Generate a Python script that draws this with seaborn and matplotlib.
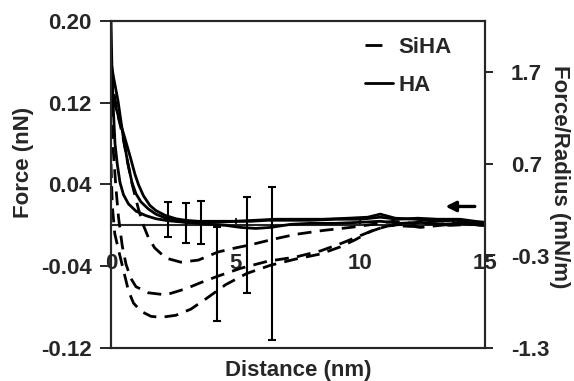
import matplotlib
matplotlib.use("Agg")
import matplotlib.pyplot as plt
from matplotlib.lines import Line2D
import numpy as np
import pandas as pd
import seaborn as sns

# ---- force-distance curves (force in nN, distance in nm) ----
ha1_x = [0, 0.04, 0.1, 0.16, 0.25, 0.36, 0.5, 0.7, 1.0, 1.4, 1.8, 2.3, 3.0, 3.6, 4.3,
         5.0, 5.8, 6.6, 7.5, 8.5, 9.5, 10.3, 10.8, 11.4, 12.2, 13.0, 13.8, 14.5, 15.0]
ha1_y = [0.20, 0.15, 0.11, 0.08, 0.06, 0.042, 0.030, 0.021, 0.014, 0.0095, 0.0065,
         0.0045, 0.003, 0.0025, 0.003, 0.004, 0.005, 0.006, 0.006, 0.006, 0.007, 0.008,
         0.011, 0.007, 0.006, 0.004, 0.005, 0.003, 0.002]

ha2_x = [0, 0.1, 0.28, 0.48, 0.68, 0.84, 1.0, 1.2, 1.5, 1.8, 2.2, 2.6, 3.0, 3.5, 4.0,
         4.6, 5.2, 5.8, 6.4, 7.2, 8.0, 9.0, 10.0, 10.8, 11.6, 12.4, 13.2, 14.0, 15.0]
ha2_y = [0.16, 0.145, 0.122, 0.088, 0.060, 0.042, 0.031, 0.023, 0.016, 0.011, 0.007,
         0.0045, 0.003, 0.002, 0.001, 0.0, -0.002, -0.003, -0.002, 0.001, 0.002, 0.002,
         0.003, 0.004, 0.002, 0.003, 0.001, 0.002, 0.0]

ha3_x = [0, 0.2, 0.4, 0.56, 0.76, 0.96, 1.1, 1.3, 1.56, 1.8, 2.17, 2.6, 3.0, 3.5, 4.3,
         5.0, 5.6, 6.3, 7.0, 8.0, 9.0, 10.0, 10.8, 11.5, 12.3, 13.1, 14.0, 14.6, 15.0]
ha3_y = [0.13, 0.115, 0.098, 0.085, 0.068, 0.05, 0.04, 0.029, 0.0195, 0.0145, 0.0098,
         0.0065, 0.0049, 0.004, 0.004, 0.004, 0.004, 0.005, 0.005, 0.005, 0.006, 0.006,
         0.008, 0.006, 0.007, 0.006, 0.006, 0.004, 0.003]

siha1_x = [0, 0.15, 0.3, 0.45, 0.65, 0.85, 1.1, 1.3, 1.5, 1.75, 2.2, 2.8, 3.5, 4.3, 5.0,
           5.6, 6.5, 7.4, 8.5, 9.6, 10.5, 11.3, 12.1, 13.0, 14.0, 15.0]
siha1_y = [0.15, 0.125, 0.105, 0.09, 0.064, 0.040, 0.016, 0.0, -0.012, -0.022, -0.032,
           -0.036, -0.034, -0.026, -0.022, -0.019, -0.0136, -0.0088, -0.005, -0.002,
           0.001, 0.004, 0.002, 0.005, 0.002, 0.002]

siha2_x = [0, 0.1, 0.2, 0.3, 0.45, 0.6, 0.8, 1.0, 1.5, 2.2, 3.0, 3.6, 4.25, 5.2, 6.3,
           7.4, 8.4, 9.3, 10.0, 10.6, 11.2, 12.0, 12.8, 13.6, 14.4, 15.0]
siha2_y = [0.12, 0.07, 0.036, 0.008, -0.020, -0.038, -0.052, -0.060, -0.066, -0.068,
           -0.062, -0.056, -0.050, -0.042, -0.035, -0.031, -0.025, -0.017, -0.010,
           -0.004, 0.0, -0.001, 0.002, 0.0, 0.001, 0.0]

siha3_x = [0, 0.05, 0.15, 0.3, 0.5, 0.7, 0.9, 1.2, 1.6, 2.0, 2.6, 3.2, 3.8, 4.6, 5.45,
           6.4, 7.4, 8.4, 9.2, 9.8, 10.4, 11.0, 11.6, 12.4, 13.2, 14.0, 15.0]
siha3_y = [0.06, 0.02, -0.008, -0.024, -0.044, -0.064, -0.076, -0.084, -0.089, -0.090,
           -0.088, -0.082, -0.072, -0.058, -0.047, -0.039, -0.033, -0.028, -0.021,
           -0.014, -0.006, -0.001, 0.001, -0.002, 0.0, 0.002, 0.0]

# ---- error bars (mean +/- s.d.) ----
ha_err_x = [2.3, 3.0, 3.6]
ha_err_y = [0.0054, 0.0026, 0.0024]
ha_err = [0.0172, 0.0194, 0.021]
siha_err_x = [4.25, 5.45, 6.45]
siha_err_y = [-0.0476, -0.0196, -0.0376]
siha_err = [0.0456, 0.047, 0.0748]

# ---- axis ticks ----
force_ticks = [0.20, 0.12, 0.04, -0.04, -0.12]
force_labels = ["0.20", "0.12", "0.04", "-0.04", "-0.12"]
radius_ticks = [1.7, 0.7, -0.3, -1.3]
radius_labels = ["1.7", "0.7", "-0.3", "-1.3"]
dist_ticks = [0, 5, 10, 15]
dist_labels = ["0", "5", "10", "15"]

runs = [("HA", "HA-1", ha1_x, ha1_y), ("HA", "HA-2", ha2_x, ha2_y),
        ("HA", "HA-3", ha3_x, ha3_y), ("SiHA", "SiHA-1", siha1_x, siha1_y),
        ("SiHA", "SiHA-2", siha2_x, siha2_y), ("SiHA", "SiHA-3", siha3_x, siha3_y)]
frames = [pd.DataFrame({"distance": xs, "force": ys, "sample": s, "run": r})
          for s, r, xs, ys in runs]
df = pd.concat(frames, ignore_index=True)

sns.set_style("ticks")
plt.rcParams["font.family"] = ["Liberation Sans", "DejaVu Sans"]
plt.rcParams["font.weight"] = "bold"
plt.rcParams["axes.unicode_minus"] = False
FS = 16

fig = plt.figure(figsize=(5.74, 3.81), dpi=100)
ax = fig.add_axes([0.1934, 0.0866, 0.6516, 0.8583])

dash = (5.0, 3.0)
sns.lineplot(data=df, x="distance", y="force", units="run", style="sample",
             estimator=None, sort=False, color="black", linewidth=2.0,
             dashes={"HA": "", "SiHA": dash}, legend=False, ax=ax)

for ex, ey, ee in ((ha_err_x, ha_err_y, ha_err), (siha_err_x, siha_err_y, siha_err)):
    ax.errorbar(ex, ey, yerr=ee, fmt="none", ecolor="black",
                elinewidth=1.5, capsize=3.2, capthick=1.5)

ax.set_xlim(0, 15)
ax.set_ylim(-0.12, 0.20)
ax.set_yticks(force_ticks)
ax.set_yticklabels(force_labels, fontsize=FS, fontweight="bold")
ax.set_xticks([])
ax.set_xlabel("Distance (nm)", fontsize=FS, fontweight="bold", labelpad=8.5)
ax.set_ylabel("Force (nN)", fontsize=FS, fontweight="bold")
ax.yaxis.set_label_coords(-0.205, 0.566)
ax.tick_params(axis="y", direction="out", length=8, width=1.4, pad=6)
for sp in ax.spines.values():
    sp.set_visible(True)
    sp.set_linewidth(1.5)
    sp.set_color("black")

# distance axis drawn along the zero-force line
zero_frac = (0 - (-0.12)) / (0.20 - (-0.12))
zax = ax.secondary_xaxis(zero_frac)
zax.set_xticks(dist_ticks)
zax.set_xticklabels(dist_labels, fontsize=FS, fontweight="bold")
zax.tick_params(axis="x", direction="in", length=5, width=1.4, pad=20)
zax.spines["bottom"].set_linewidth(1.5)

# force normalised by tip radius
ax2 = ax.twinx()
ax2.set_ylim(-1.3, 2.254)
ax2.set_yticks(radius_ticks)
ax2.set_yticklabels(radius_labels, fontsize=FS, fontweight="bold")
ax2.tick_params(axis="y", direction="out", length=6, width=1.4, pad=12.5)
ax2.set_ylabel("Force/Radius (mN/m)", fontsize=FS, fontweight="bold",
               rotation=270)
ax2.yaxis.set_label_coords(1.226, 0.523)
for sp in ax2.spines.values():
    sp.set_linewidth(1.5)

# approach direction
ax.annotate("", xy=(13.3, 0.0185), xytext=(14.7, 0.0185),
            arrowprops=dict(arrowstyle="-|>", color="black", lw=2.4,
                            mutation_scale=15))

handles = [Line2D([], [], color="black", lw=2.0, dashes=(6.1, 20)),
           Line2D([], [], color="black", lw=2.0)]
leg = ax.legend(handles, ["SiHA", "HA"], loc="upper left",
                bbox_to_anchor=(0.679, 0.951), frameon=False,
                prop=dict(size=FS, weight="bold"), handlelength=1.25,
                handletextpad=0.27, labelspacing=0.75, borderaxespad=0,
                borderpad=0)

fig.savefig("out.png", dpi=100)
